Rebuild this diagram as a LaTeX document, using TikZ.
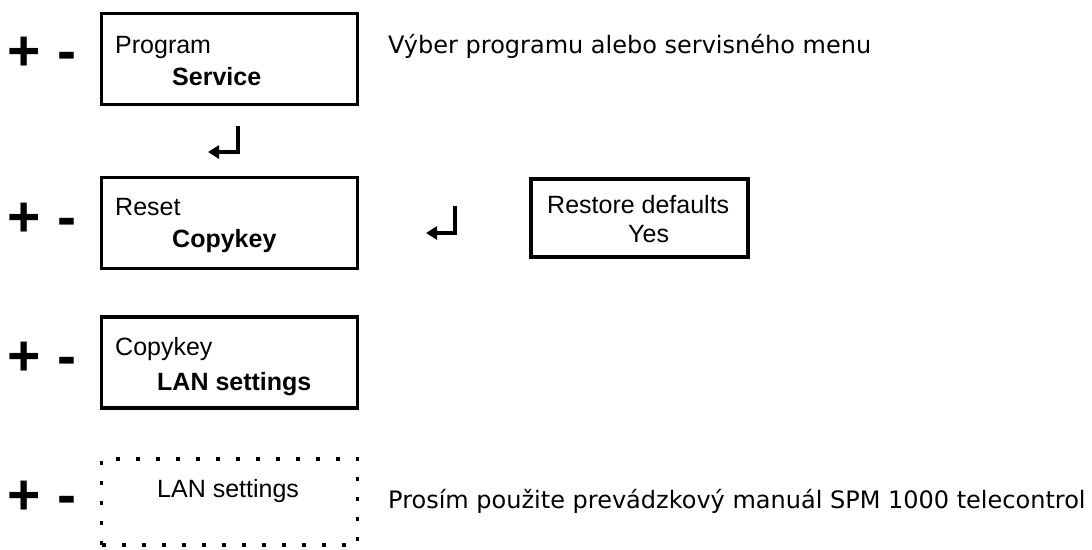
\documentclass[tikz,border=0pt]{standalone}
\usepackage{fontspec}
\setmainfont{Liberation Sans}
\newfontfamily\notefont{DejaVu Sans}
\usetikzlibrary{arrows.meta, positioning}

\begin{document}
\begin{tikzpicture}[x=1pt, y=-1pt,
      menubox/.style={
         draw=black,
         line width=3.5pt,
         minimum width=256pt,
         minimum height=91pt,
         inner sep=0pt},
      dotbox/.style={
         menubox,
         minimum height=86pt,
         dash pattern=on 4pt off 16pt},
      boxtext/.style={anchor=base west, inner sep=0pt, font=\fontsize{25}{30}\selectfont},
      boxbold/.style={boxtext, font=\fontsize{25}{30}\selectfont\bfseries},
      notetext/.style={anchor=base west, inner sep=0pt, font=\notefont\fontsize{24}{29}\selectfont},
      pmsign/.style={inner sep=0pt, font=\fontsize{57}{66}\selectfont\bfseries},
      retarrow/.style={line width=3.5pt, -{Triangle[length=11pt,width=13pt]}}
      ]
      \useasboundingbox (0,0) rectangle (1092,549);

      % menu boxes
      \node[menubox] at (229.5, 59) (prog) {};
      \node[menubox] at (229.5, 223) (reset) {};
      \node[menubox] at (229.5, 362.5) (copy) {};
      \node[dotbox]  at (229.5, 502) (lan) {};
      \node[menubox, minimum width=217pt, minimum height=78pt] at (639.5, 218) (restore) {};

      % plus / minus keys
      \foreach \n/\y in {pm1/54, pm2/220, pm3/359, pm4/498}
         \node[pmsign] at (42, \y) (\n) {+ -};

      % box texts
      \node[boxtext] at (115, 53)  (progA) {Program};
      \node[boxbold] at (172, 85)  (progB) {Service};
      \node[boxtext] at (115, 215) (resetA) {Reset};
      \node[boxbold] at (172, 247) (resetB) {Copykey};
      \node[boxtext] at (115, 355) (copyA) {Copykey};
      \node[boxbold] at (157, 390) (copyB) {LAN settings};
      \node[boxtext] at (157, 497) (lanA) {LAN settings};
      \node[boxtext] at (547, 213) (restA) {Restore defaults};
      \node[boxtext] at (628, 242) (restB) {Yes};

      % notes
      \node[notetext] at (388, 53)  (note1) {Výber programu alebo servisného menu};
      \node[notetext] at (388, 508) (note2) {Prosím použite prevádzkový manuál SPM 1000 telecontrol};

      % enter keys
      \coordinate (ret1a) at (238, 126);
      \coordinate (ret1b) at (208, 152);
      \coordinate (ret2a) at (455, 206);
      \coordinate (ret2b) at (426, 233);
      \draw[retarrow] (ret1a) |- (ret1b);
      \draw[retarrow] (ret2a) |- (ret2b);

    \end{tikzpicture}
\end{document}
